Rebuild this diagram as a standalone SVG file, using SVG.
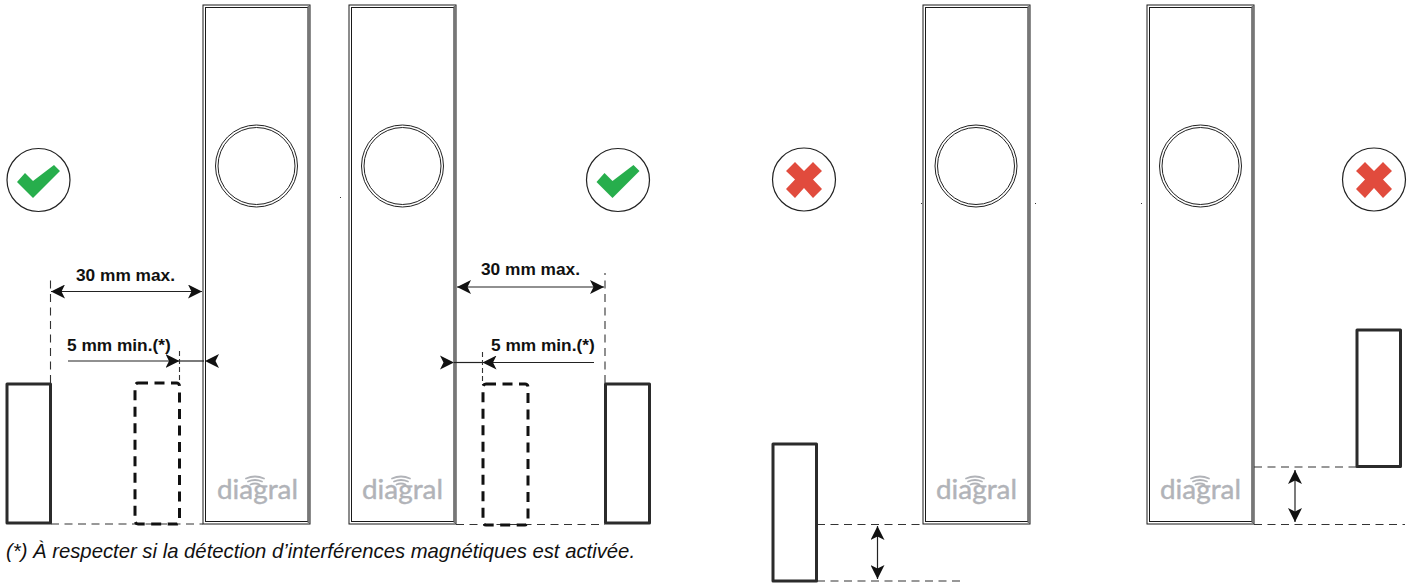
<svg xmlns="http://www.w3.org/2000/svg" width="1414" height="587" viewBox="0 0 1414 587">
<style>
.outer{fill:#fff;stroke:#1a1a1a;stroke-width:1}
.inner{fill:none;stroke:#1a1a1a;stroke-width:1}
.sideR{stroke:#777;stroke-width:2.4;fill:none}
.lens{fill:none;stroke:#222;stroke-width:1}
.logo{font-family:"Lato","Noto Sans",sans-serif;font-size:26px;fill:#b1b3b8;stroke:#b1b3b8;stroke-width:.4;font-weight:400}
.arc{fill:none;stroke:#b1b3b8;stroke-width:1.8;stroke-linecap:round}
.sensor{fill:#fff;stroke:#2b2b2b;stroke-width:3;stroke-linejoin:round}
.ghost{fill:none;stroke:#111;stroke-width:3;stroke-dasharray:10 6.5;stroke-linejoin:round}
.dash{fill:none;stroke:#333;stroke-width:1.1;stroke-dasharray:8 5.5}
.tick{fill:none;stroke:#333;stroke-width:1.1;stroke-dasharray:5 3}
.dim{fill:none;stroke:#222;stroke-width:1.2}
.badge{fill:#fff;stroke:#222;stroke-width:1.2}
.ok{fill:#27ae4c}
.no{fill:#e14b3d}
.t{font-family:"Liberation Sans",Arial,sans-serif;font-size:17.3px;font-weight:700;fill:#111}
.n{font-family:"Liberation Sans",Arial,sans-serif;font-size:20.3px;font-style:italic;fill:#111}
.head{fill:#111}
.speck{fill:#333}
</style>
<defs>
<marker id="ah" viewBox="0 0 14 14" refX="14" refY="7" markerWidth="14" markerHeight="14" markerUnits="userSpaceOnUse" orient="auto-start-reverse"><path class="head" d="M0 0L14 7L0 14L3.500 7Z"/></marker>
<g id="wifi"><path class="arc" d="M-4.500 -14.500Q0 -16.500 4.500 -14.500"/><path class="arc" d="M-7 -17.500Q0 -20.500 7 -17.500"/><path class="arc" d="M-9 -20.500Q0 -24.500 9 -20.500"/></g>
</defs>
<g id="panel-1">
<rect class="outer" x="203" y="5" width="107" height="519"/>
<rect class="inner" x="205.500" y="7.500" width="102.500" height="514"/>
<path class="sideR" d="M308.800 6V523"/>
<circle class="lens" cx="256.500" cy="166" r="41"/><circle class="lens" cx="256.500" cy="166" r="38.500"/>
<text class="logo" x="217" y="499" textLength="81" lengthAdjust="spacingAndGlyphs">diagral</text>
<use href="#wifi" x="255" y="499"/>
</g>
<g id="panel-2">
<rect class="outer" x="349" y="5" width="107" height="519"/>
<rect class="inner" x="351.500" y="7.500" width="102.500" height="514"/>
<path class="sideR" d="M454.800 6V523"/>
<circle class="lens" cx="402.500" cy="166" r="41"/><circle class="lens" cx="402.500" cy="166" r="38.500"/>
<text class="logo" x="362" y="499" textLength="81" lengthAdjust="spacingAndGlyphs">diagral</text>
<use href="#wifi" x="401" y="499"/>
</g>
<g id="panel-3">
<rect class="outer" x="923" y="5" width="107" height="519"/>
<rect class="inner" x="925.500" y="7.500" width="102.500" height="514"/>
<path class="sideR" d="M1028.800 6V523"/>
<circle class="lens" cx="976" cy="166" r="41"/><circle class="lens" cx="976" cy="166" r="38.500"/>
<text class="logo" x="936" y="499" textLength="81" lengthAdjust="spacingAndGlyphs">diagral</text>
<use href="#wifi" x="975" y="499"/>
</g>
<g id="panel-4">
<rect class="outer" x="1147" y="5" width="107" height="519"/>
<rect class="inner" x="1149.500" y="7.500" width="102.500" height="514"/>
<path class="sideR" d="M1252.800 6V523"/>
<circle class="lens" cx="1200.500" cy="166" r="41"/><circle class="lens" cx="1200.500" cy="166" r="38.500"/>
<text class="logo" x="1160" y="499" textLength="81" lengthAdjust="spacingAndGlyphs">diagral</text>
<use href="#wifi" x="1200" y="499"/>
</g>
<g id="connectors">
<path class="dash" d="M50.500 383V275"/>
<path class="dash" d="M51 524H203"/>
<path class="dim" d="M51 291.500H202" marker-start="url(#ah)" marker-end="url(#ah)"/>
<path class="dim" d="M68 361H179.500" marker-end="url(#ah)"/>
<path class="dim" d="M179.500 361H204"/>
<path class="head" d="M205 361L219 354L215.500 361L219 368Z"/>
<path class="tick" d="M179.500 351V384"/>
<path class="dash" d="M605 383V273"/>
<path class="dash" d="M456 524.500H605"/>
<path class="dim" d="M457 287H604" marker-start="url(#ah)" marker-end="url(#ah)"/>
<path class="dim" d="M594 362.500H482.500" marker-end="url(#ah)"/>
<path class="dim" d="M482.500 362.500H454"/>
<path class="head" d="M454 362.500L440 355.500L443.500 362.500L440 369.500Z"/>
<path class="tick" d="M482.500 352V385"/>
<path class="dash" d="M817 524.500H923"/>
<path class="dash" d="M817 581H965"/>
<path class="dim" d="M877.500 526V579" marker-start="url(#ah)" marker-end="url(#ah)"/>
<path class="dash" d="M1254 467H1357"/>
<path class="dash" d="M1254 524.500H1405"/>
<path class="dim" d="M1295 470V522" marker-start="url(#ah)" marker-end="url(#ah)"/>
</g>
<g id="sensor-1"><rect class="sensor" x="7" y="384" width="43.500" height="139"/></g>
<g id="sensor-1-ghost"><rect class="ghost" x="135" y="383" width="44.500" height="141" rx="3"/></g>
<g id="sensor-2-ghost"><rect class="ghost" x="483" y="384" width="45" height="141" rx="3"/></g>
<g id="sensor-2"><rect class="sensor" x="605.500" y="384" width="44" height="139"/></g>
<g id="sensor-3"><rect class="sensor" x="773" y="444" width="43.500" height="137"/></g>
<g id="sensor-4"><rect class="sensor" x="1357" y="330" width="43.500" height="136.500"/></g>
<g id="badge-ok-1"><circle class="badge" cx="38.500" cy="180" r="31.500"/><path class="ok" d="M17 182L25 173L33 181L54 165L60 171L33 198Z"/></g>
<g id="badge-ok-2"><circle class="badge" cx="618" cy="180" r="31.500"/><path class="ok" d="M596.500 182L604.500 173L612.500 181L633.500 165L639.500 171L612.500 198Z"/></g>
<g id="badge-no-1"><circle class="badge" cx="804" cy="179.500" r="31.500"/><path class="no" d="M795 162L804 171L813 162L822 171L813 179.500L822 189L813 198L804 188L795 198L786 189L795 179.500L786 171Z"/></g>
<g id="badge-no-2"><circle class="badge" cx="1374" cy="179.500" r="31.500"/><path class="no" d="M1365 162L1374 171L1383 162L1392 171L1383 179.500L1392 189L1383 198L1374 188L1365 198L1356 189L1365 179.500L1356 171Z"/></g>
<g id="labels">
<text class="t" x="76" y="280.500">30 mm max.</text>
<text class="t" x="67" y="351">5 mm min.(*)</text>
<text class="t" x="481" y="274.500">30 mm max.</text>
<text class="t" x="491" y="351">5 mm min.(*)</text>
<text class="n" x="6" y="558">(*) À respecter si la détection d’interférences magnétiques est activée.</text>
</g>
<rect class="speck" x="340" y="197" width="1" height="1"/>
<rect class="speck" x="921" y="203" width="1" height="1"/>
<rect class="speck" x="1035" y="203" width="1" height="1"/>
<rect class="speck" x="1141" y="203" width="1" height="1"/>
</svg>
